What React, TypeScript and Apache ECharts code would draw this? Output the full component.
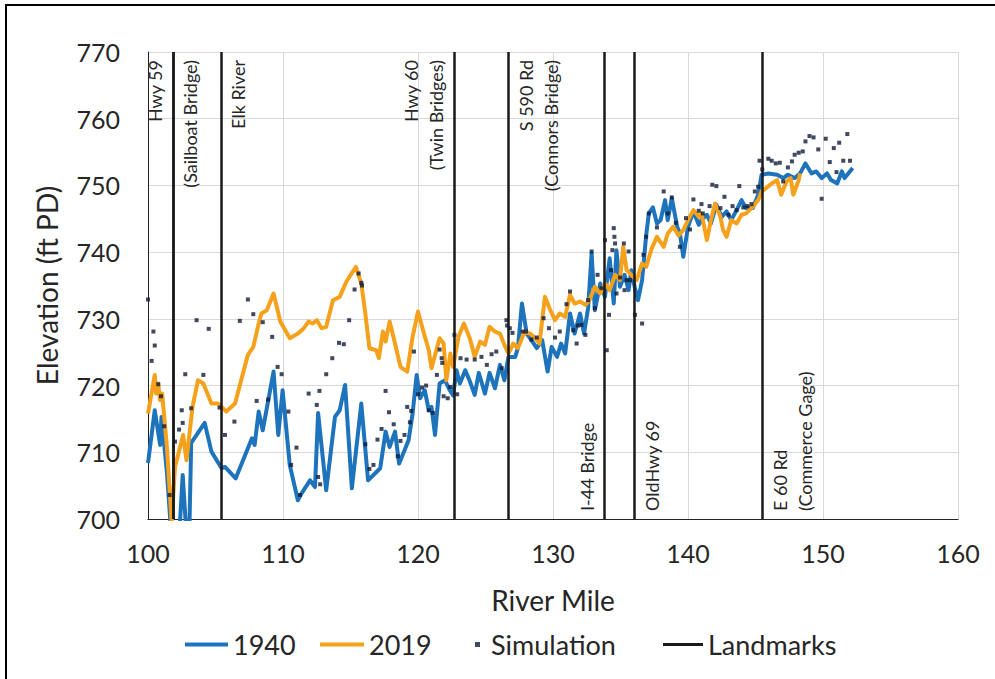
import React, { useEffect, useRef } from "react";
import * as echarts from "echarts";

const xTicks = [100, 110, 120, 130, 140, 150, 160];
const yTicks = [700, 710, 720, 730, 740, 750, 760, 770];

const line1940: [number, number][] = [
  [100.0, 708.4], [100.5, 716.3], [100.9, 711.1], [101.0, 715.3], [101.4, 707.0], [101.75, 697],
  [102.3, 697], [102.57, 706.6], [102.87, 697], [103.05, 697], [103.2, 711.4], [104.2, 714.4],
  [104.7, 710.1], [105.45, 707.6], [105.7, 707.8], [106.5, 706.1], [107.7, 712.1], [107.9, 711.1],
  [108.2, 716.1], [108.5, 713.3], [109.3, 722.1], [109.65, 712.6], [109.97, 719.3], [110.5, 708.1],
  [111.1, 702.8], [111.3, 703.6], [112.0, 705.8], [112.37, 704.8], [112.6, 715.9], [113.2, 704.3],
  [113.85, 715.3], [114.2, 716.3], [114.6, 720.1], [115.1, 704.6], [115.8, 717.3], [116.3, 705.8],
  [117.2, 707.6], [117.6, 713.1], [117.9, 710.8], [118.3, 713.1], [118.6, 708.3], [119.3, 711.8],
  [119.6, 715.8], [119.9, 721.6], [120.15, 718.1], [120.5, 719.3], [120.8, 716.3], [121.0, 716.8],
  [121.26, 712.6], [121.6, 720.3], [122.0, 720.8], [122.3, 719.5], [122.6, 718.5], [122.85, 722.3],
  [123.1, 720.3], [123.5, 722.3], [123.85, 720.6], [124.2, 718.6], [124.5, 721.9], [124.96, 718.8],
  [125.3, 721.9], [125.7, 719.6], [126.07, 723.1], [126.4, 720.8], [126.7, 724.3], [127.2, 724.3],
  [127.4, 725.6], [127.7, 732.3], [128.05, 727.8], [128.4, 726.8], [128.8, 725.6], [129.2, 726.8],
  [129.6, 722.1], [129.9, 725.8], [130.3, 724.3], [130.6, 726.3], [130.9, 724.8], [131.26, 730.8],
  [131.6, 727.8], [132.0, 730.8], [132.3, 727.8], [132.6, 731.6], [132.86, 739.8], [133.1, 731.3],
  [133.5, 735.3], [133.85, 733.3], [134.2, 739.1], [134.5, 732.3], [134.7, 740.3], [134.96, 734.8],
  [135.3, 736.6], [135.6, 734.3], [135.8, 737.3], [136.07, 734.6], [136.3, 732.8], [136.6, 735.8],
  [136.9, 742.5], [137.1, 745.8], [137.4, 746.7], [137.7, 744.3], [137.97, 744.8], [138.3, 747.8],
  [138.5, 744.8], [138.8, 748.1], [139.2, 743.8], [139.4, 742.8], [139.65, 739.3], [140.0, 743.8],
  [140.4, 746.1], [140.8, 744.1], [141.0, 744.8], [141.4, 745.6], [141.7, 744.3], [142.1, 747.1],
  [142.5, 745.3], [142.86, 746.1], [143.2, 744.8], [143.6, 746.3], [143.97, 747.8], [144.3, 746.6],
  [144.8, 746.6], [145.2, 748.6], [145.45, 751.6], [145.95, 751.8], [146.6, 751.6], [147.05, 751.1],
  [147.4, 751.6], [147.9, 751.1], [148.3, 751.8], [148.7, 753.3], [149.15, 751.8], [149.5, 752.1],
  [149.9, 751.1], [150.3, 751.8], [150.6, 750.8], [151.05, 750.3], [151.4, 752.1], [151.6, 751.1],
  [152.2, 752.6],
];

const line2019: [number, number][] = [
  [100.0, 715.8], [100.5, 721.6], [100.6, 718.8], [100.75, 720.3], [100.9, 717.8], [101.05, 718.8],
  [101.4, 710.8], [101.75, 699.6], [102.0, 707.8], [102.6, 712.6], [102.85, 708.8], [103.3, 716.8],
  [103.7, 720.8], [104.1, 720.3], [104.7, 717.3], [105.2, 717.3], [105.8, 716.1], [106.45, 717.3],
  [106.9, 720.8], [107.4, 724.6], [107.8, 725.8], [108.2, 729.3], [108.4, 730.8], [108.8, 731.3],
  [109.3, 733.8], [109.8, 729.6], [110.5, 727.1], [111.1, 727.8], [111.5, 728.5], [111.9, 729.6],
  [112.2, 729.3], [112.5, 729.8], [112.86, 728.6], [113.2, 728.8], [113.7, 732.8], [114.2, 733.3],
  [114.7, 735.6], [115.4, 737.8], [115.8, 735.3], [116.07, 731.3], [116.4, 725.6], [116.9, 725.3],
  [117.1, 724.1], [117.4, 728.1], [117.6, 726.6], [117.9, 729.6], [118.3, 726.3], [118.7, 722.8],
  [119.2, 722.1], [119.6, 727.3], [120.0, 731.1], [120.4, 728.1], [120.8, 725.3], [121.0, 722.6],
  [121.6, 727.1], [121.9, 726.3], [122.1, 720.8], [122.4, 724.8], [122.6, 722.8], [123.0, 727.3],
  [123.4, 729.3], [123.85, 727.0], [124.2, 724.3], [124.6, 726.6], [124.96, 726.1], [125.3, 728.8],
  [125.7, 728.1], [126.07, 727.8], [126.4, 726.1], [126.7, 724.8], [127.05, 726.3], [127.4, 725.6],
  [127.9, 728.1], [128.3, 727.8], [128.7, 727.1], [129.0, 726.3], [129.4, 733.3], [129.8, 731.3],
  [130.15, 729.8], [130.5, 730.8], [130.9, 730.3], [131.26, 733.6], [131.6, 732.3], [132.0, 732.6],
  [132.4, 732.1], [132.7, 732.8], [133.1, 734.8], [133.5, 733.8], [133.85, 735.3], [134.2, 734.3],
  [134.6, 736.6], [134.96, 735.8], [135.2, 740.8], [135.45, 737.3], [135.8, 736.6], [136.2, 735.8],
  [136.6, 738.3], [136.9, 737.8], [137.3, 740.5], [137.7, 742.3], [138.2, 740.8], [138.5, 742.8],
  [138.9, 743.8], [139.3, 742.5], [139.65, 743.3], [140.0, 744.8], [140.4, 746.3], [140.8, 745.3],
  [141.0, 745.8], [141.4, 741.8], [141.7, 744.8], [142.0, 747.3], [142.4, 745.3], [142.6, 743.3],
  [142.86, 742.3], [143.2, 744.8], [143.6, 744.3], [143.97, 745.6], [144.3, 745.8], [144.8, 746.8],
  [145.2, 747.8], [145.45, 749.1], [145.8, 749.6], [146.2, 750.3], [146.6, 750.8], [146.9, 748.6],
  [147.3, 750.6], [147.6, 751.1], [147.8, 748.6], [148.2, 750.8], [148.3, 751.8],
];

const simulation: [number, number][] = [
  [100.0, 732.9], [100.27, 723.7], [100.4, 728.1], [100.5, 726.0], [100.76, 720.2], [100.96, 718.4],
  [101.2, 713.9], [101.6, 703.6], [102.0, 711.6], [102.3, 713.4], [102.5, 716.3], [102.57, 714.4],
  [102.76, 721.7], [103.2, 716.6], [103.6, 729.8], [104.1, 721.6], [104.5, 728.5], [105.3, 716.7],
  [105.7, 712.6], [106.4, 714.6], [106.8, 729.7], [107.4, 732.9], [107.8, 730.7], [108.05, 717.7],
  [108.5, 729.5], [108.9, 717.9], [109.2, 727.3], [109.6, 722.8], [109.9, 721.7], [110.4, 716.1],
  [110.6, 708.1], [111.0, 710.7], [111.26, 703.6], [111.9, 718.8], [112.5, 717.1], [112.6, 706.3],
  [112.7, 719.2], [112.75, 705.2], [113.2, 721.7], [113.65, 724.1], [114.15, 726.4], [114.5, 726.2],
  [114.9, 729.8], [115.3, 734.4], [115.6, 736.8], [115.8, 735.4], [115.85, 735.0], [116.1, 711.2],
  [116.4, 707.5], [116.7, 708.1], [117.0, 711.9], [117.3, 713.5], [117.6, 719.2], [117.85, 716.0],
  [118.2, 714.2], [118.5, 709.4], [118.7, 711.7], [119.0, 712.6], [119.2, 716.8], [119.4, 714.5],
  [119.5, 716.2], [119.7, 725.1], [120.0, 718.7], [120.3, 719.7], [120.6, 720.0], [120.8, 716.3],
  [121.1, 715.9], [121.4, 721.6], [121.6, 725.4], [121.75, 724.1], [121.8, 723.4], [121.9, 718.4],
  [122.2, 718.1], [122.4, 719.8], [122.7, 727.6], [122.9, 718.7], [123.15, 724.1], [123.6, 723.9],
  [124.2, 723.9], [124.7, 724.3], [125.1, 723.1], [125.45, 724.7], [125.8, 725.1], [126.2, 722.6],
  [126.55, 729.8], [126.6, 729.0], [126.8, 728.6], [127.0, 727.9], [127.75, 728.1], [128.0, 728.1],
  [128.4, 726.9], [128.8, 727.2], [129.3, 730.1], [129.7, 728.6], [130.15, 727.2], [130.5, 728.1],
  [131.0, 732.2], [131.26, 734.1], [131.5, 728.3], [131.75, 726.3], [131.85, 729.0], [132.1, 729.1],
  [132.4, 727.6], [132.6, 732.8], [132.86, 740.1], [133.1, 731.6], [133.3, 736.6], [133.6, 734.6],
  [133.85, 741.8], [133.98, 725.3], [134.15, 730.6], [134.3, 737.3], [134.4, 740.3], [134.5, 743.6],
  [134.55, 742.3], [134.6, 741.3], [134.7, 733.8], [134.96, 736.2], [135.25, 741.3], [135.3, 734.3],
  [135.45, 735.8], [135.6, 740.1], [135.7, 735.8], [136.07, 730.6], [136.6, 729.3], [136.7, 739.6],
  [136.9, 742.3], [137.1, 745.8], [137.7, 743.7], [138.2, 749.1], [138.5, 745.8], [138.8, 748.2],
  [139.1, 744.4], [139.4, 740.8], [139.85, 745.1], [140.15, 743.4], [140.4, 747.9], [140.8, 746.2],
  [141.0, 747.2], [141.1, 745.8], [141.6, 746.9], [141.8, 750.1], [142.1, 749.9], [142.4, 746.6],
  [142.7, 748.3], [143.0, 745.6], [143.3, 746.9], [143.6, 746.3], [143.8, 749.9], [144.1, 746.7],
  [144.4, 746.9], [144.7, 747.2], [144.95, 749.1], [145.2, 749.8], [145.3, 753.7], [145.5, 752.4],
  [145.95, 754.0], [146.2, 753.7], [146.5, 753.3], [146.8, 753.4], [147.05, 750.6], [147.4, 752.7],
  [147.7, 753.6], [147.9, 754.6], [148.2, 754.9], [148.5, 755.1], [148.7, 756.6], [149.0, 757.4],
  [149.3, 757.2], [149.65, 755.4], [149.9, 748.0], [150.2, 757.0], [150.5, 753.5], [150.8, 755.6],
  [151.0, 752.0], [151.2, 756.4], [151.5, 753.7], [151.8, 757.7], [152.0, 753.7],
];

const landmarkMiles = [101.85, 101.85, 105.4, 122.65, 126.7, 133.8, 136.0, 145.5];
const landmarkLabels = [
  "Hwy 59",
  "(Sailboat Bridge)",
  "Elk River",
  "Hwy 60\n(Twin Bridges)",
  "S 590 Rd\n(Connors Bridge)",
  "I-44 Bridge",
  "OldHwy 69",
  "E 60 Rd\n(Commerce Gage)",
];
// label placement for each landmark label (end = top of plot, start = bottom)
const landmarkPlacement = [
  "insideEndTop",
  "insideEndBottom",
  "insideEndBottom",
  "insideEndTop",
  "insideEndBottom",
  "insideStartTop",
  "insideStartBottom",
  "insideStartBottom",
];

const FONT = "Lato";
const TEXT = "#262626";
const BLUE = "#1d74bd";
const ORANGE = "#f6a11c";
const DOT = "#111c38";
const BLACK = "#1a1a1a";

export default function App() {
  const ref = useRef<HTMLDivElement>(null);

  useEffect(() => {
    if (!ref.current) return;
    const chart = echarts.init(ref.current, null, { renderer: "svg" });

    const legendText = { fontFamily: FONT, fontSize: 27, color: TEXT };
    const legendBase = {
      top: 631,
      padding: 0,
      itemHeight: 4,
      selectedMode: false,
      textStyle: legendText,
    };

    const option: any = {
      animation: false,
      backgroundColor: "#ffffff",
      textStyle: { fontFamily: FONT },
      grid: { left: 148, right: 37, top: 52, bottom: 160, containLabel: false },
      graphic: [
        {
          type: "rect",
          shape: { x: 6, y: 5, width: 1000, height: 700 },
          style: { fill: "none", stroke: "#000000", lineWidth: 2 },
          silent: true,
        },
      ],
      legend: [
        { ...legendBase, data: [{ name: "1940", icon: "rect" }], left: 185, itemWidth: 43 },
        { ...legendBase, data: [{ name: "2019", icon: "rect" }], left: 320, itemWidth: 44 },
        {
          ...legendBase,
          data: [{ name: "Simulation", icon: "rect" }],
          left: 475,
          itemWidth: 5,
          itemHeight: 5,
          textStyle: { ...legendText, padding: [0, 0, 0, 6] },
        },
        { ...legendBase, data: [{ name: "Landmarks", icon: "rect" }], left: 663, itemWidth: 40, itemHeight: 3 },
      ],
      xAxis: {
        type: "value",
        min: xTicks[0],
        max: xTicks[xTicks.length - 1],
        interval: 10,
        name: "River Mile",
        nameLocation: "middle",
        nameGap: 67,
        nameTextStyle: { fontFamily: FONT, fontSize: 28, color: TEXT },
        axisLine: { show: true, lineStyle: { color: "#222222", width: 1.2 } },
        axisTick: { show: false },
        axisLabel: { fontFamily: FONT, fontSize: 25, color: TEXT, margin: 21 },
        splitLine: { show: true, lineStyle: { color: "#d9d9d9", width: 1 } },
      },
      yAxis: {
        type: "value",
        min: yTicks[0],
        max: yTicks[yTicks.length - 1],
        interval: 10,
        name: "Elevation (ft PD)",
        nameLocation: "middle",
        nameGap: 87,
        nameTextStyle: { fontFamily: FONT, fontSize: 28, color: TEXT },
        axisLine: { show: true, lineStyle: { color: "#222222", width: 1 } },
        axisTick: { show: false },
        axisLabel: { fontFamily: FONT, fontSize: 25, color: TEXT, margin: 28 },
        splitLine: { show: true, lineStyle: { color: "#d9d9d9", width: 1 } },
      },
      series: [
        {
          name: "1940",
          type: "line",
          data: line1940,
          symbol: "none",
          showSymbol: false,
          clip: true,
          color: BLUE,
          lineStyle: { color: BLUE, width: 4, join: "round" },
          silent: true,
          z: 2,
        },
        {
          name: "2019",
          type: "line",
          data: line2019,
          symbol: "none",
          showSymbol: false,
          clip: true,
          color: ORANGE,
          lineStyle: { color: ORANGE, width: 4, join: "round" },
          silent: true,
          z: 3,
        },
        {
          name: "Simulation",
          type: "scatter",
          data: simulation,
          symbol: "rect",
          symbolSize: 4,
          color: DOT,
          itemStyle: { color: DOT },
          silent: true,
          z: 4,
        },
        {
          name: "Landmarks",
          type: "line",
          data: [],
          symbol: "none",
          color: BLACK,
          lineStyle: { color: BLACK, width: 2.5 },
          silent: true,
          z: 5,
          markLine: {
            silent: true,
            symbol: ["none", "none"],
            animation: false,
            lineStyle: { color: BLACK, width: 2.5, type: "solid" },
            emphasis: { disabled: true },
            data: landmarkMiles.map((m, i) => ({
              xAxis: m,
              label: {
                show: true,
                formatter: landmarkLabels[i],
                position: landmarkPlacement[i],
                distance: [8, 5],
                fontFamily: FONT,
                fontSize: 18,
                lineHeight: 25,
                color: TEXT,
              },
            })),
          },
        },
      ],
    };

    chart.setOption(option);
    return () => chart.dispose();
  }, []);

  return (
    <div
      ref={ref}
      style={{ position: "absolute", left: 0, top: 0, width: 995, height: 679 }}
    />
  );
}
